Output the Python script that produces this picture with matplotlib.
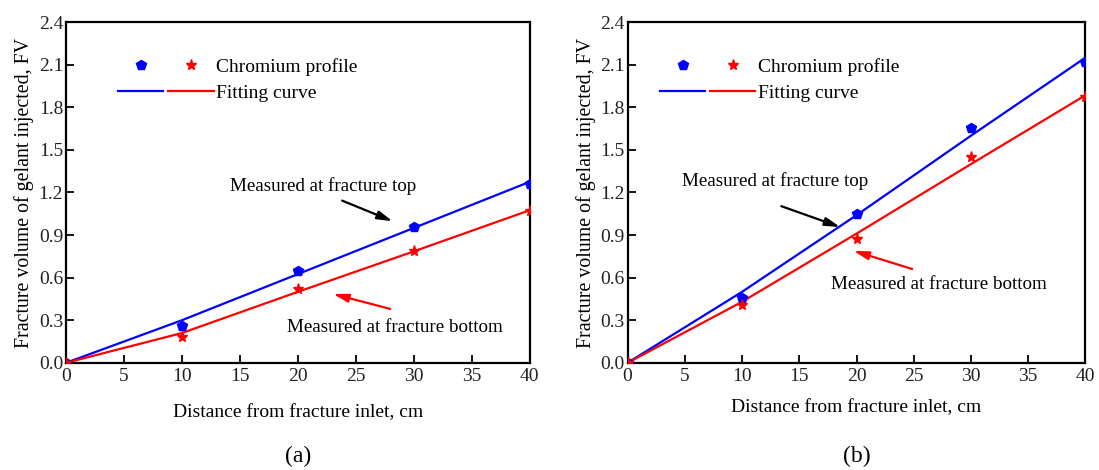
import matplotlib
matplotlib.use("Agg")
import matplotlib.pyplot as plt
from matplotlib.legend_handler import HandlerTuple
from matplotlib.lines import Line2D

plt.rcParams['font.family'] = ['Liberation Serif', 'DejaVu Serif']

# distance from fracture inlet, cm
distance = [0, 10, 20, 30, 40]

# panel (a)
a_top_pts = [0.0, 0.26, 0.65, 0.955, 1.26]
a_bot_pts = [0.0, 0.185, 0.52, 0.785, 1.07]
a_top_fit = [0.0, 0.30, 0.625, 0.95, 1.275]
a_bot_fit = [0.0, 0.21, 0.50, 0.785, 1.075]

# panel (b)
b_top_pts = [0.0, 0.46, 1.05, 1.655, 2.12]
b_bot_pts = [0.0, 0.41, 0.875, 1.45, 1.87]
b_top_fit = [0.0, 0.50, 1.04, 1.60, 2.15]
b_bot_fit = [0.0, 0.43, 0.91, 1.40, 1.885]

xticks = [0, 5, 10, 15, 20, 25, 30, 35, 40]
yticks = [0.0, 0.3, 0.6, 0.9, 1.2, 1.5, 1.8, 2.1, 2.4]

BLUE = '#0000ff'
RED = '#ff0000'

fig = plt.figure(figsize=(10.99, 4.70), dpi=100)
ax_a = fig.add_axes([0.060, 0.228, 0.422, 0.725])
ax_b = fig.add_axes([0.571, 0.228, 0.4167, 0.725])


def draw_panel(ax, top_pts, bot_pts, top_fit, bot_fit, notes, tag,
               xlab_y, leg_x):
    ax.plot(distance, top_fit, color=BLUE, lw=1.6, zorder=2)
    ax.plot(distance, bot_fit, color=RED, lw=1.6, zorder=2)
    ax.plot(distance, top_pts, 'p', color=BLUE, ms=7, ls='none', zorder=3)
    ax.plot(distance, bot_pts, '*', color=RED, ms=8, ls='none', zorder=3)

    ax.set_xlim(0, 40)
    ax.set_ylim(0, 2.4)
    ax.set_xticks(xticks)
    ax.set_yticks(yticks)
    ax.set_yticklabels([f"{v:.1f}" for v in yticks])
    ax.tick_params(direction='in', length=5.5, width=1.3, labelsize=14,
                   labelcolor='#222222')
    ax.tick_params(axis='y', pad=2)
    ax.tick_params(axis='x', pad=4)
    for s in ax.spines.values():
        s.set_linewidth(1.6)

    ax.set_xlabel("Distance from fracture inlet, cm", fontsize=14)
    ax.xaxis.label.set_va('center')
    ax.xaxis.set_label_coords(0.5, xlab_y)
    ax.set_ylabel("Fracture volume of gelant injected, FV", fontsize=14.3,
                  labelpad=3)

    # legend: paired blue/red symbols
    h_pts = (Line2D([], [], marker='p', color=BLUE, ls='none', ms=7),
             Line2D([], [], marker='*', color=RED, ls='none', ms=8))
    h_fit = (Line2D([], [], color=BLUE, lw=1.6),
             Line2D([], [], color=RED, lw=1.6))
    ax.legend([h_pts, h_fit], ["Chromium profile", "Fitting curve"],
              handler_map={tuple: HandlerTuple(ndivide=None, pad=0.25)},
              loc='upper left', bbox_to_anchor=(leg_x, 0.918),
              frameon=False, fontsize=14, handlelength=4.9,
              handletextpad=0.15, labelspacing=0.45, borderaxespad=0)

    for text, txy, arrow_tail, arrow_head, col in notes:
        ax.text(txy[0], txy[1], text, fontsize=13.7, ha='center', va='center')
        ax.annotate("", xy=arrow_head, xytext=arrow_tail,
                    arrowprops=dict(arrowstyle='-|>,head_length=0.9,head_width=0.25',
                                    color=col, lw=1.6))

    pos = ax.get_position()
    fig.text(pos.x0 + pos.width / 2, 0.028, tag,
             fontsize=17, ha='center', va='center')


notes_a = [
    ("Measured at fracture top", (22.2, 1.246), (23.6, 1.15), (28.4, 0.99), 'black'),
    ("Measured at fracture bottom", (28.4, 0.246), (28.2, 0.375), (22.8, 0.49), RED),
]
notes_b = [
    ("Measured at fracture top", (12.9, 1.28), (13.2, 1.11), (18.8, 0.95), 'black'),
    ("Measured at fracture bottom", (27.2, 0.549), (25.1, 0.655), (19.5, 0.795), RED),
]

draw_panel(ax_a, a_top_pts, a_bot_pts, a_top_fit, a_bot_fit, notes_a, "(a)",
           -0.147, 0.096)
draw_panel(ax_b, b_top_pts, b_bot_pts, b_top_fit, b_bot_fit, notes_b, "(b)",
           -0.132, 0.054)

fig.savefig("out.png", dpi=100)
